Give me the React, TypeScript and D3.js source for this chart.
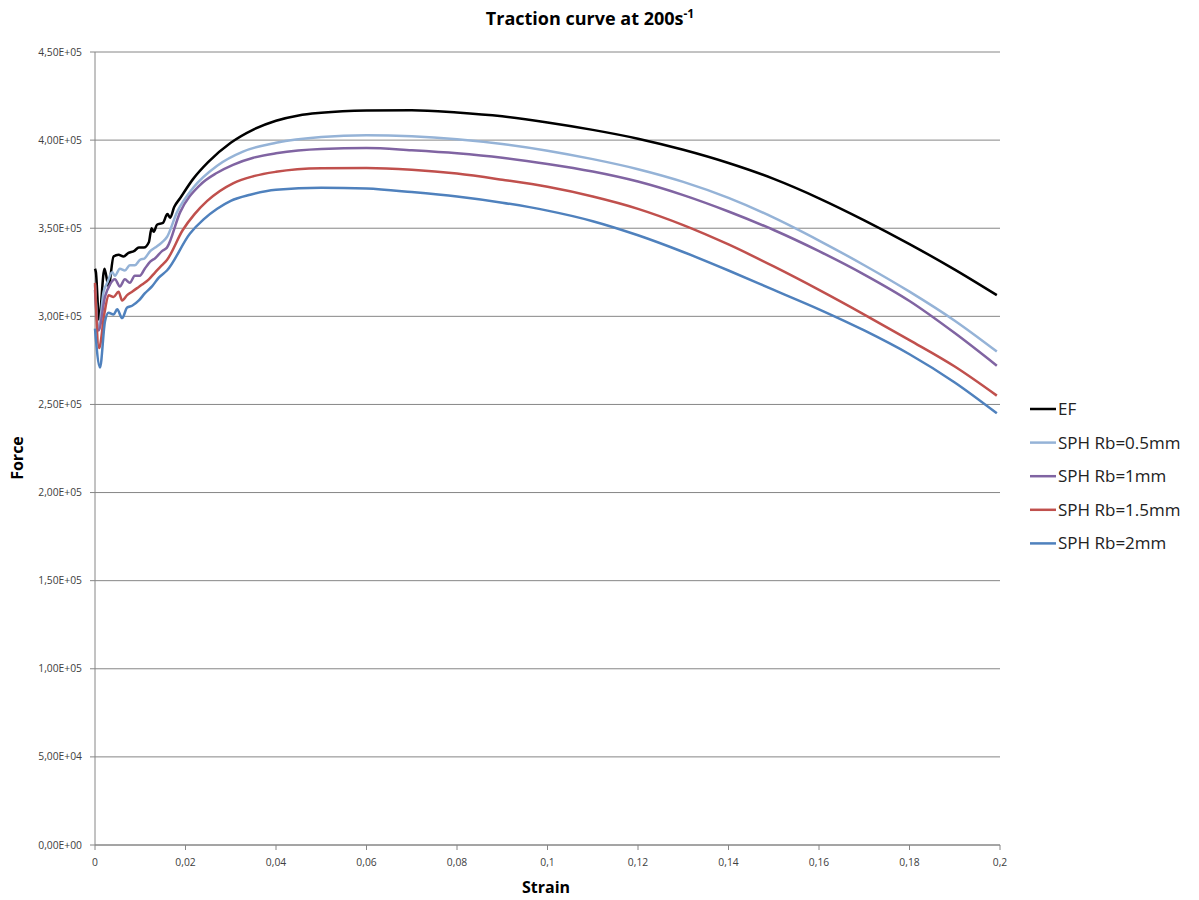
import React from 'react';
import * as d3 from 'd3';

type Point = [number, number];

// strain vs force (N)
const efData: Point[] = [
  [0, 3.27e5], [0.0002, 3.25e5], [0.0009, 2.98e5], [0.0021, 3.27e5], [0.003, 3.17e5],
  [0.0041, 3.34e5], [0.0052, 3.35e5], [0.0063, 3.34e5], [0.0074, 3.36e5], [0.0086, 3.37e5],
  [0.0097, 3.39e5], [0.0108, 3.39e5], [0.0119, 3.42e5], [0.0125, 3.5e5], [0.013, 3.48e5],
  [0.0137, 3.52e5], [0.015, 3.53e5], [0.016, 3.58e5], [0.0166, 3.56e5], [0.0175, 3.62e5],
  [0.0188, 3.67e5], [0.0217, 3.78e5], [0.025, 3.875e5], [0.03, 3.985e5], [0.035, 4.06e5],
  [0.04, 4.11e5], [0.045, 4.14e5], [0.05, 4.155e5], [0.06, 4.168e5], [0.07, 4.17e5],
  [0.08, 4.157e5], [0.09, 4.135e5], [0.1, 4.1e5], [0.11, 4.058e5], [0.12, 4.008e5],
  [0.13, 3.945e5], [0.14, 3.87e5], [0.15, 3.78e5], [0.16, 3.67e5], [0.17, 3.545e5],
  [0.18, 3.41e5], [0.19, 3.265e5], [0.1993, 3.12e5],
];

const sph05Data: Point[] = [
  [0, 3.18e5], [0.0008, 2.93e5], [0.0019, 3.14e5], [0.0027, 3.19e5], [0.0038, 3.25e5],
  [0.0044, 3.23e5], [0.0055, 3.27e5], [0.0066, 3.26e5], [0.0077, 3.29e5], [0.0088, 3.29e5],
  [0.0099, 3.32e5], [0.011, 3.33e5], [0.0122, 3.37e5], [0.0133, 3.39e5], [0.0148, 3.42e5],
  [0.0159, 3.45e5], [0.0181, 3.59e5], [0.0217, 3.73e5], [0.027, 3.855e5], [0.0327, 3.935e5],
  [0.04, 3.985e5], [0.05, 4.018e5], [0.06, 4.028e5], [0.07, 4.022e5], [0.08, 4.005e5],
  [0.09, 3.978e5], [0.1, 3.94e5], [0.11, 3.892e5], [0.12, 3.835e5], [0.13, 3.763e5],
  [0.14, 3.672e5], [0.15, 3.56e5], [0.16, 3.43e5], [0.17, 3.29e5], [0.18, 3.14e5],
  [0.19, 2.975e5], [0.1993, 2.8e5],
];

const sph1Data: Point[] = [
  [0, 3.15e5], [0.0008, 2.92e5], [0.0022, 3.11e5], [0.0033, 3.18e5], [0.0044, 3.21e5],
  [0.0055, 3.17e5], [0.0066, 3.21e5], [0.0077, 3.19e5], [0.0088, 3.23e5], [0.0099, 3.23e5],
  [0.011, 3.27e5], [0.0122, 3.31e5], [0.0133, 3.33e5], [0.0148, 3.37e5], [0.0159, 3.39e5],
  [0.0188, 3.59e5], [0.0232, 3.745e5], [0.027, 3.815e5], [0.0305, 3.86e5], [0.035, 3.9e5],
  [0.04, 3.925e5], [0.05, 3.95e5], [0.06, 3.955e5], [0.07, 3.942e5], [0.08, 3.925e5],
  [0.09, 3.9e5], [0.1, 3.865e5], [0.11, 3.822e5], [0.12, 3.765e5], [0.13, 3.688e5],
  [0.14, 3.595e5], [0.15, 3.49e5], [0.16, 3.37e5], [0.17, 3.237e5], [0.18, 3.087e5],
  [0.19, 2.905e5], [0.1993, 2.72e5],
];

const sph15Data: Point[] = [
  [0, 3.19e5], [0.0009, 2.82e5], [0.0021, 3.02e5], [0.003, 3.12e5], [0.0041, 3.11e5],
  [0.0052, 3.14e5], [0.006, 3.09e5], [0.0071, 3.12e5], [0.0082, 3.14e5], [0.0093, 3.16e5],
  [0.0104, 3.18e5], [0.0119, 3.21e5], [0.0133, 3.25e5], [0.0148, 3.29e5], [0.0159, 3.32e5],
  [0.0194, 3.49e5], [0.022, 3.58e5], [0.0248, 3.655e5], [0.0305, 3.755e5], [0.035, 3.795e5],
  [0.04, 3.82e5], [0.05, 3.84e5], [0.06, 3.842e5], [0.07, 3.832e5], [0.08, 3.81e5],
  [0.09, 3.775e5], [0.1, 3.735e5], [0.11, 3.68e5], [0.12, 3.61e5], [0.13, 3.518e5],
  [0.14, 3.408e5], [0.15, 3.283e5], [0.16, 3.15e5], [0.17, 3.01e5], [0.18, 2.865e5],
  [0.19, 2.715e5], [0.1993, 2.55e5],
];

const sph2Data: Point[] = [
  [0, 2.93e5], [0.0011, 2.71e5], [0.0022, 2.97e5], [0.003, 3.02e5], [0.0041, 3.01e5],
  [0.0049, 3.04e5], [0.006, 2.99e5], [0.0071, 3.05e5], [0.0082, 3.06e5], [0.0097, 3.09e5],
  [0.011, 3.13e5], [0.0126, 3.17e5], [0.0141, 3.22e5], [0.0159, 3.26e5], [0.021, 3.47e5],
  [0.024, 3.55e5], [0.027, 3.61e5], [0.03, 3.655e5], [0.0343, 3.69e5], [0.04, 3.718e5],
  [0.05, 3.73e5], [0.06, 3.725e5], [0.07, 3.705e5], [0.08, 3.68e5], [0.09, 3.645e5],
  [0.1, 3.6e5], [0.11, 3.54e5], [0.12, 3.46e5], [0.13, 3.365e5], [0.14, 3.26e5],
  [0.15, 3.15e5], [0.16, 3.04e5], [0.17, 2.92e5], [0.18, 2.785e5], [0.19, 2.625e5],
  [0.1993, 2.45e5],
];

const seriesNames = ['EF', 'SPH Rb=0.5mm', 'SPH Rb=1mm', 'SPH Rb=1.5mm', 'SPH Rb=2mm'];
const seriesColors = ['#000000', '#95B3D7', '#8064A2', '#C0504D', '#4F81BD'];
const seriesData = [efData, sph05Data, sph1Data, sph15Data, sph2Data];

const yTicks = d3.range(0, 4.5e5 + 1, 0.5e5);
const xTicks = d3.range(0, 0.2001, 0.02);

const FONT = '"Open Sans", "Noto Sans", sans-serif';

// 4.5e5 -> "4,50E+05"
const fmtY = (v: number) => {
  const [m, e] = v.toExponential(2).split('e');
  const sign = e[0] === '-' ? '-' : '+';
  const exp = e.replace(/[+-]/, '').padStart(2, '0');
  return `${m.replace('.', ',')}E${sign}${exp}`;
};
const fmtX = (v: number) => String(+v.toFixed(2)).replace('.', ',');

const App: React.FC = () => {
  const width = 1199;
  const height = 900;
  const plot = { left: 95, right: 1000, top: 52, bottom: 845 };

  const x = d3.scaleLinear().domain([0, 0.2]).range([plot.left, plot.right]);
  const y = d3.scaleLinear().domain([0, 4.5e5]).range([plot.bottom, plot.top]);

  const line = d3
    .line<Point>()
    .x((d) => x(d[0]))
    .y((d) => y(d[1]))
    .curve(d3.curveMonotoneX);

  const axisColor = '#868686';

  return (
    <svg
      width={width}
      height={height}
      style={{ position: 'absolute', left: 0, top: 0, background: '#fff' }}
      fontFamily={FONT}
    >
      {/* title */}
      <text x={590} y={25} textAnchor="middle" fontSize={18} fontWeight="bold" fill="#000">
        Traction curve at 200s
        <tspan fontSize={12} dy={-7}>-1</tspan>
      </text>

      {/* horizontal gridlines */}
      {yTicks.map((t) => (
        <line
          key={'g' + t}
          x1={plot.left}
          x2={plot.right}
          y1={y(t)}
          y2={y(t)}
          stroke={axisColor}
          strokeWidth={1}
        />
      ))}

      {/* y axis */}
      <line x1={plot.left} x2={plot.left} y1={plot.top} y2={plot.bottom} stroke={axisColor} />
      {yTicks.map((t) => (
        <g key={'y' + t}>
          <line x1={plot.left - 5} x2={plot.left} y1={y(t)} y2={y(t)} stroke={axisColor} />
          <text x={82} y={y(t)} dy="0.35em" textAnchor="end" fontSize={10.3} fill="#404040">
            {fmtY(t)}
          </text>
        </g>
      ))}

      {/* x axis */}
      <line x1={plot.left} x2={plot.right} y1={plot.bottom} y2={plot.bottom} stroke={axisColor} />
      {xTicks.map((t) => (
        <g key={'x' + t}>
          <line x1={x(t)} x2={x(t)} y1={plot.bottom} y2={plot.bottom + 5} stroke={axisColor} />
          <text x={x(t)} y={866} textAnchor="middle" fontSize={10.3} fill="#404040">
            {fmtX(t)}
          </text>
        </g>
      ))}

      {/* axis titles */}
      <text x={546} y={893} textAnchor="middle" fontSize={16} fontWeight="bold" fill="#000">
        Strain
      </text>
      <text
        transform={`translate(23,458) rotate(-90)`}
        textAnchor="middle"
        fontSize={16}
        fontWeight="bold"
        fill="#000"
      >
        Force
      </text>

      {/* curves */}
      {seriesData.map((d, i) => (
        <path
          key={seriesNames[i]}
          d={line(d) || ''}
          fill="none"
          stroke={seriesColors[i]}
          strokeWidth={2.5}
          strokeLinejoin="round"
        />
      ))}

      {/* legend */}
      {seriesNames.map((name, i) => {
        const ly = 409 + i * 33.6;
        return (
          <g key={'l' + name}>
            <line x1={1030} x2={1056} y1={ly} y2={ly} stroke={seriesColors[i]} strokeWidth={2.5} />
            <text x={1058} y={ly} dy="0.35em" fontSize={17} fill="#222">
              {name}
            </text>
          </g>
        );
      })}
    </svg>
  );
};

export default App;
